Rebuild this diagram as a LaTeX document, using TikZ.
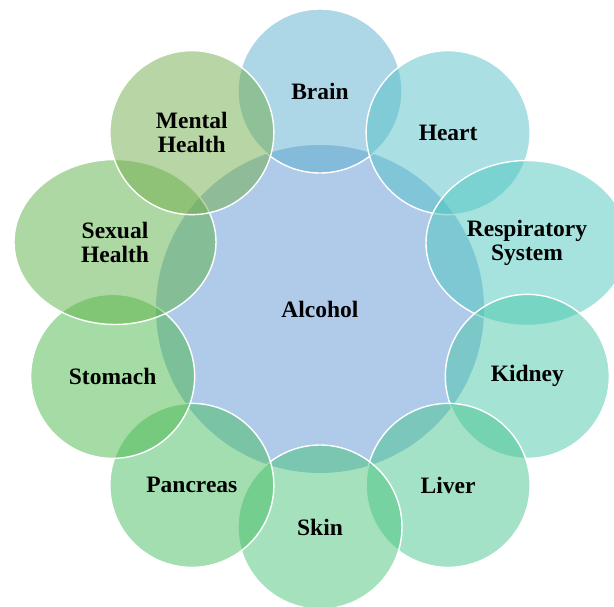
\documentclass[tikz,border=0pt]{standalone}
\usepackage{fontspec}
\setmainfont{Liberation Serif}
\usepackage{xcolor}
\usepackage{tikz}
\usetikzlibrary{shapes.geometric}
\definecolor{alcoholblue}{RGB}{175,203,233}
\definecolor{brainblue}{RGB}{91,173,205}
\definecolor{heartcyan}{RGB}{85,193,201}
\definecolor{respteal}{RGB}{77,199,189}
\definecolor{kidneyteal}{RGB}{75,199,171}
\definecolor{livergreen}{RGB}{73,197,145}
\definecolor{skingreen}{RGB}{73,195,121}
\definecolor{pancgreen}{RGB}{71,189,97}
\definecolor{stomgreen}{RGB}{75,183,75}
\definecolor{sexgreen}{RGB}{93,177,71}
\definecolor{mentgreen}{RGB}{113,173,75}

\begin{document}
\begin{tikzpicture}[x=1pt,y=1pt,
labelfont/.style={font=\bfseries\fontsize{23.5}{24}\selectfont},
organ/.style={labelfont,circle,minimum size=164pt,inner sep=0pt,draw=white,line width=1.4pt,fill opacity=0.5,text opacity=1,align=center},
wideorgan/.style={organ,ellipse,minimum width=202pt,minimum height=165pt}]
\clip(-320,-297)rectangle(294,309);
\node[labelfont,circle,minimum size=328pt,inner sep=0pt,fill=alcoholblue](alcohol)at(0,0){Alcohol};
% outer ring, clockwise from the top
\node[organ,fill=brainblue](brain)at(90:218){Brain};
\node[organ,fill=heartcyan](heart)at(54:218){Heart};
\node[wideorgan,fill=respteal](resp)at(207,66){Respiratory\\System};
\node[organ,fill=kidneyteal](kidney)at(-18:218){Kidney};
\node[organ,fill=livergreen](liver)at(-54:218){Liver};
\node[organ,fill=skingreen](skin)at(-90:218){Skin};
\node[organ,fill=pancgreen](pancreas)at(-126:218){Pancreas};
\node[organ,fill=stomgreen](stomach)at(-162:218){Stomach};
\node[wideorgan,fill=sexgreen](sexual)at(-205,67){Sexual\\Health};
\node[organ,fill=mentgreen](mental)at(126:218){Mental\\Health};
\end{tikzpicture}
\end{document}
